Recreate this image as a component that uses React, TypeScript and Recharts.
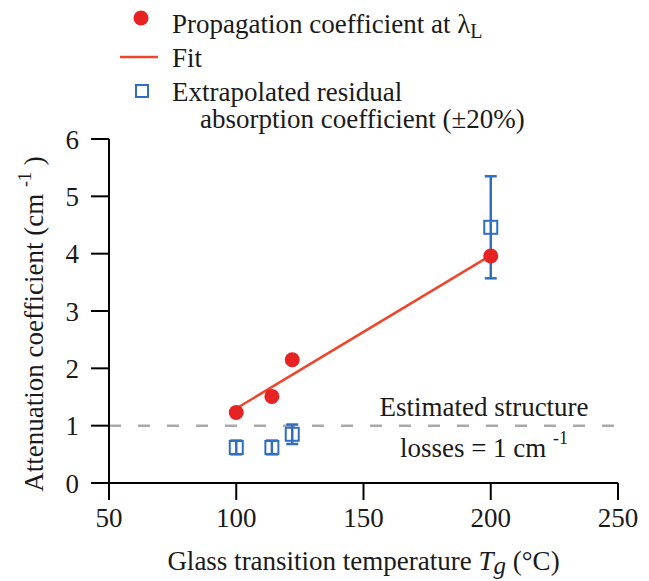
import React from 'react';
import {
  ComposedChart, XAxis, YAxis, Scatter, Line, ErrorBar, ReferenceLine, Legend,
} from 'recharts';

const tgPropagation = [100, 114, 122, 200];
const propagation = [1.23, 1.51, 2.15, 3.96];
const tgResidual = [100, 114, 122, 200];
const residual = [0.62, 0.62, 0.85, 4.46];
const residualErr = [0.12, 0.12, 0.17, 0.89];
const fitTg = [100, 200];
const fitValues = [1.3, 3.97];
const xTicks = [50, 100, 150, 200, 250];
const yTicks = [0, 1, 2, 3, 4, 5, 6];

const RED = '#e62222';
const FIT = '#f0452a';
const BLUE = '#2f6ec4';
const FONT = "'Liberation Serif', 'Times New Roman', Times, 'DejaVu Serif', 'Noto Serif', serif";

const propData = tgPropagation.map((x, i) => ({ x, y: propagation[i] }));
const resData = tgResidual.map((x, i) => ({ x, y: residual[i], err: residualErr[i] }));
const fitData = fitTg.map((x, i) => ({ x, y: fitValues[i] }));

const tickStyle = { fill: '#1a1a1a', fontSize: 27, style: { fontFamily: FONT } };
const axisStroke = { stroke: '#000', strokeWidth: 2 };
const txt = { fontFamily: FONT };

function SquareShape(props: any) {
  const { cx, cy } = props;
  return <rect x={cx - 6.5} y={cy - 6.5} width={13} height={13} fill="none" stroke={BLUE} strokeWidth={2} />;
}

function LegendBox() {
  return (
    <svg width={649} height={140}>
      <circle cx={141} cy={18} r={7.5} fill={RED} />
      <text x={172} y={33} fontSize={27} fill="#1a1a1a" style={txt}>
        Propagation coefficient at λ<tspan fontSize={20} dy={5}>L</tspan>
      </text>
      <line x1={120} x2={158} y1={57} y2={57} stroke={FIT} strokeWidth={2.5} />
      <text x={172} y={67} fontSize={27} fill="#1a1a1a" style={txt}>Fit</text>
      <rect x={136} y={85} width={12} height={12} fill="none" stroke={BLUE} strokeWidth={2} />
      <text x={172} y={101} fontSize={27} fill="#1a1a1a" style={txt}>Extrapolated residual</text>
      <text x={200} y={128} fontSize={27} fill="#1a1a1a" style={txt}>absorption coefficient (±20%)</text>
    </svg>
  );
}

function XTitle(props: any) {
  const { viewBox } = props;
  const cx = viewBox.x + viewBox.width / 2;
  return (
    <text x={cx} y={viewBox.y + 87} textAnchor="middle" fontSize={27} style={txt} fill="#1a1a1a">
      Glass transition temperature <tspan fontStyle="italic">T</tspan>
      <tspan fontStyle="italic" fontSize={25} dy={4}>g</tspan>
      <tspan dy={-4}> (°C)</tspan>
    </text>
  );
}

function YTitle(props: any) {
  const { viewBox } = props;
  const x = viewBox.x + 43;
  const y = viewBox.y + viewBox.height / 2 + 13;
  return (
    <text x={x} y={y} transform={`rotate(-90 ${x} ${y})`} textAnchor="middle" fontSize={27} style={txt} fill="#1a1a1a">
      Attenuation coefficient (cm <tspan fontSize={18} dy={-12}>-1</tspan>
      <tspan dy={12}> )</tspan>
    </text>
  );
}

function StructureNote(props: any) {
  const { viewBox } = props;
  const cx = viewBox.x + viewBox.width - 134;
  return (
    <g fill="#1a1a1a" fontSize={27} style={txt}>
      <text x={cx} y={viewBox.y - 10} textAnchor="middle">Estimated structure</text>
      <text x={cx} y={viewBox.y + 31} textAnchor="middle">
        losses = 1 cm <tspan fontSize={18} dy={-13}>-1</tspan>
      </text>
    </g>
  );
}

export default function App() {
  return (
    <div style={{ position: 'absolute', left: 0, top: 0, background: '#fff', fontFamily: FONT }}>
      <ComposedChart width={649} height={581} margin={{ top: 139, right: 31, bottom: 0, left: 0 }}
        style={{ fontFamily: FONT }}>
        <XAxis
          dataKey="x" type="number" domain={[50, 250]} ticks={xTicks} height={98}
          tick={tickStyle} tickSize={17} tickMargin={8} axisLine={axisStroke} tickLine={axisStroke}
          label={{ content: <XTitle /> }}
        />
        <XAxis xAxisId="top" orientation="top" type="number" domain={[50, 250]} height={0}
          tick={false} tickLine={false} axisLine={axisStroke} />
        <YAxis
          dataKey="y" type="number" domain={[0, 6]} ticks={yTicks} width={109}
          tick={tickStyle} tickSize={18} tickMargin={12} axisLine={axisStroke} tickLine={axisStroke}
          label={{ content: <YTitle /> }}
        />
        <YAxis yAxisId="right" orientation="right" type="number" domain={[0, 6]} width={0}
          tick={false} tickLine={false} axisLine={axisStroke} />
        <Legend
          layout="horizontal" verticalAlign="middle" align="center"
          wrapperStyle={{ top: 0, left: 0, width: 649 }}
          content={() => <LegendBox />}
        />
        <ReferenceLine y={1} stroke="#aaaaaa" strokeWidth={2.5} strokeDasharray="12 17"
          label={{ content: <StructureNote /> }} />
        <Line data={fitData} dataKey="y" name="Fit" stroke={FIT} strokeWidth={2.5} dot={false}
          isAnimationActive={false} />
        <Scatter data={resData} name="Extrapolated residual absorption coefficient (±20%)"
          shape={<SquareShape />} isAnimationActive={false}>
          <ErrorBar dataKey="err" direction="y" width={6} stroke={BLUE} strokeWidth={2.5} />
        </Scatter>
        <Scatter data={propData} name="Propagation coefficient" fill={RED}
          isAnimationActive={false}
          shape={(p: any) => <circle cx={p.cx} cy={p.cy} r={7.5} fill={RED} />} />
      </ComposedChart>
    </div>
  );
}
